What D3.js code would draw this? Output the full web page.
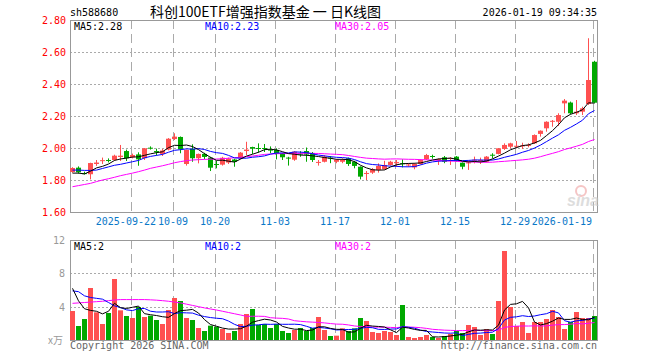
<!DOCTYPE html>
<html>
<head>
<meta charset="utf-8">
<script src="https://cdn.jsdelivr.net/npm/d3@7"></script>
<style>
  body { margin: 0; background: #fff; }
  svg { display: block; }
  text { font-family: "DejaVu Sans Mono", monospace; font-size: 10px; }
</style>
</head>
<body>
<svg id="chart" width="660" height="360"></svg>
<script>
// Data

const dates = [
  '2025-09-08', '2025-09-09', '2025-09-10', '2025-09-11', '2025-09-12', '2025-09-15', '2025-09-16', '2025-09-17',
  '2025-09-18', '2025-09-19', '2025-09-22', '2025-09-23', '2025-09-24', '2025-09-25', '2025-09-26', '2025-09-29',
  '2025-09-30', '2025-10-09', '2025-10-10', '2025-10-13', '2025-10-14', '2025-10-15', '2025-10-16', '2025-10-17',
  '2025-10-20', '2025-10-21', '2025-10-22', '2025-10-23', '2025-10-24', '2025-10-27', '2025-10-28', '2025-10-29',
  '2025-10-30', '2025-10-31', '2025-11-03', '2025-11-04', '2025-11-05', '2025-11-06', '2025-11-07', '2025-11-10',
  '2025-11-11', '2025-11-12', '2025-11-13', '2025-11-14', '2025-11-17', '2025-11-18', '2025-11-19', '2025-11-20',
  '2025-11-21', '2025-11-24', '2025-11-25', '2025-11-26', '2025-11-27', '2025-11-28', '2025-12-01', '2025-12-02',
  '2025-12-03', '2025-12-04', '2025-12-05', '2025-12-08', '2025-12-09', '2025-12-10', '2025-12-11', '2025-12-12',
  '2025-12-15', '2025-12-16', '2025-12-17', '2025-12-18', '2025-12-19', '2025-12-22', '2025-12-23', '2025-12-24',
  '2025-12-25', '2025-12-26', '2025-12-29', '2025-12-30', '2025-12-31', '2026-01-05', '2026-01-06', '2026-01-07',
  '2026-01-08', '2026-01-09', '2026-01-12', '2026-01-13', '2026-01-14', '2026-01-15', '2026-01-16', '2026-01-19',
];

const open = [
  1.850, 1.877, 1.843, 1.836, 1.900, 1.920, 1.925, 1.925, 1.944, 1.981, 1.942, 1.960, 1.936, 2.002, 1.981, 1.963,
  1.990, 2.056, 2.069, 1.900, 1.994, 1.936, 1.963, 1.940, 1.900, 1.896, 1.909, 1.928, 1.936, 1.981, 2.006, 2.000,
  2.000, 1.990, 1.988, 1.967, 1.940, 1.927, 1.966, 1.981, 1.969, 1.909, 1.914, 1.940, 1.914, 1.914, 1.936, 1.914,
  1.883, 1.839, 1.846, 1.863, 1.867, 1.894, 1.905, 1.905, 1.894, 1.879, 1.900, 1.929, 1.950, 1.927, 1.942, 1.935,
  1.946, 1.908, 1.905, 1.922, 1.920, 1.914, 1.958, 1.963, 1.994, 2.008, 2.008, 2.011, 2.013, 2.029, 2.088, 2.123,
  2.164, 2.164, 2.279, 2.284, 2.217, 2.227, 2.275, 2.539,
];
const close = [
  1.875, 1.848, 1.840, 1.906, 1.909, 1.924, 1.920, 1.952, 1.952, 1.936, 1.956, 1.929, 1.998, 1.998, 1.973, 1.984,
  2.058, 2.071, 1.992, 1.988, 1.936, 1.963, 1.944, 1.877, 1.895, 1.939, 1.934, 1.914, 1.971, 1.990, 1.996, 1.996,
  1.995, 1.985, 1.967, 1.942, 1.935, 1.977, 1.959, 1.959, 1.925, 1.913, 1.946, 1.935, 1.927, 1.925, 1.900, 1.888,
  1.821, 1.844, 1.867, 1.888, 1.894, 1.914, 1.912, 1.900, 1.897, 1.900, 1.925, 1.956, 1.946, 1.931, 1.914, 1.938,
  1.921, 1.883, 1.910, 1.927, 1.925, 1.946, 1.952, 1.998, 2.019, 2.029, 2.014, 2.016, 2.019, 2.081, 2.108, 2.164,
  2.170, 2.206, 2.296, 2.217, 2.227, 2.248, 2.425, 2.283,
];
const high = [
  1.880, 1.885, 1.852, 1.908, 1.925, 1.940, 1.935, 1.958, 2.019, 1.990, 1.965, 1.973, 2.000, 2.010, 1.996, 1.994,
  2.062, 2.092, 2.072, 1.990, 2.023, 1.965, 1.970, 1.945, 1.920, 1.945, 1.940, 1.932, 1.975, 2.039, 2.008, 2.029,
  2.025, 2.010, 1.998, 1.970, 1.945, 1.980, 1.980, 2.003, 1.975, 1.925, 1.955, 1.950, 1.930, 1.935, 1.940, 1.920,
  1.885, 1.856, 1.875, 1.904, 1.920, 1.920, 1.925, 1.929, 1.904, 1.905, 1.930, 1.963, 1.958, 1.935, 1.950, 1.942,
  1.950, 1.910, 1.921, 1.946, 1.940, 1.950, 1.967, 2.000, 2.029, 2.033, 2.044, 2.033, 2.029, 2.085, 2.110, 2.167,
  2.175, 2.217, 2.306, 2.290, 2.300, 2.258, 2.686, 2.545,
];
const low = [
  1.845, 1.840, 1.835, 1.804, 1.888, 1.900, 1.910, 1.920, 1.919, 1.919, 1.935, 1.889, 1.925, 1.990, 1.953, 1.950,
  1.985, 2.050, 1.967, 1.890, 1.914, 1.904, 1.930, 1.856, 1.873, 1.890, 1.900, 1.883, 1.930, 1.956, 1.963, 1.971,
  1.975, 1.967, 1.929, 1.925, 1.890, 1.920, 1.945, 1.914, 1.913, 1.890, 1.910, 1.905, 1.905, 1.905, 1.888, 1.873,
  1.804, 1.800, 1.838, 1.846, 1.865, 1.890, 1.883, 1.879, 1.883, 1.867, 1.897, 1.925, 1.933, 1.894, 1.905, 1.894,
  1.915, 1.867, 1.863, 1.904, 1.900, 1.910, 1.935, 1.960, 1.988, 1.998, 1.998, 1.994, 2.004, 2.025, 2.071, 2.102,
  2.133, 2.138, 2.217, 2.210, 2.206, 2.206, 2.269, 2.280,
];

// volume, 万 hands
const volume = [
  3.48, 1.68, 2.52, 6.24, 3.32, 1.92, 3.24, 7.32, 3.56, 2.88, 2.64, 3.96, 2.76, 2.92, 2.40, 1.92,
  3.60, 5.04, 4.68, 2.64, 2.40, 1.44, 1.08, 1.72, 1.60, 1.32, 0.84, 1.08, 1.92, 3.12, 3.72, 1.80,
  1.92, 1.44, 1.92, 1.08, 0.84, 1.20, 1.44, 1.08, 1.44, 2.76, 1.20, 0.48, 0.52, 1.40, 1.08, 1.40,
  2.64, 2.28, 0.96, 0.84, 1.08, 0.96, 0.60, 4.20, 0.36, 0.24, 0.36, 0.60, 0.36, 0.24, 0.48, 0.72,
  1.08, 0.84, 1.80, 1.56, 0.60, 1.32, 0.72, 4.68, 10.68, 3.96, 1.68, 2.16, 0.84, 2.16, 2.16, 2.52,
  3.60, 2.76, 1.32, 2.16, 3.36, 2.64, 2.64, 2.88,
];

// moving averages on the left edge (their window starts before the first day shown)
const priceMa5Head = [1.843, 1.843, 1.838, 1.855];
const priceMa10Head = [1.862, 1.862, 1.860, 1.860, 1.862, 1.872, 1.882, 1.892, 1.898];
const priceMa30Head = [
  1.758, 1.765, 1.772, 1.779, 1.790, 1.800, 1.808, 1.817, 1.827, 1.835, 1.843, 1.852, 1.862, 1.873, 1.881,
  1.889, 1.898, 1.908, 1.915, 1.921, 1.925, 1.927, 1.929, 1.930, 1.931, 1.933, 1.936, 1.939, 1.942,
];
const volMa5Head = [6.2, 4.7, 3.75, 3.55];
const volMa10Head = [5.9, 5.8, 5.3, 5.1, 5.0, 4.9, 4.5, 4.1, 3.9];
const volMa30Head = [
  4.40, 4.45, 4.50, 4.55, 4.60, 4.65, 4.72, 4.80, 4.85, 4.85, 4.85, 4.85, 4.85, 4.82, 4.78,
  4.72, 4.65, 4.55, 4.45, 4.30, 4.15, 4.00, 3.85, 3.72, 3.60, 3.45, 3.30, 3.15, 3.00,
];

const tickDates = ['2025-09-22', '2025-10-09', '2025-10-20', '2025-11-03', '2025-11-17', '2025-12-01', '2025-12-15', '2025-12-29', '2026-01-19'];
const tickLabels = ['2025-09-22', '10-09', '10-20', '11-03', '11-17', '12-01', '12-15', '12-29', '2026-01-19'];
const priceTicks = [1.6, 1.8, 2.0, 2.2, 2.4, 2.6, 2.8];
const volTicks = [4, 8, 12];

const code = 'sh588680';
const title = '科创100ETF增强指数基金 一 日K线图';
const stamp = '2026-01-19 09:34:35';

// Helpers

const movingAvg = (arr, n, head) => arr.map((v, i) => (i < n - 1 ? head[i] : d3.mean(arr.slice(i - n + 1, i + 1))));

const RED = '#ff5050';
const GREEN = '#00a800';
const GRID = '#aaa';
const maColors = { 5: '#000', 10: '#0000ff', 30: '#ff00ff' };

const svg = d3.select('#chart');

const left = 70;
const right = 597;
const price = { top: 20, bottom: 212 };
const vol = { top: 240, bottom: 340 };

const x = d3.scaleBand().domain(dates).range([left, right]).paddingInner(1 / 6).paddingOuter(0);
const cx = (i) => x(dates[i]) + 2.5;

const y = d3.scaleLinear().domain([1.6, 2.8]).range([price.bottom, price.top]);
const yv = d3.scaleLinear().domain([0, 12]).range([vol.bottom, vol.top]);

// Header

svg.append('text').attr('x', 70).attr('y', 16).text(code);
svg.append('text')
  .attr('x', 150)
  .attr('y', 17)
  .style('font-family', '"Noto Sans CJK SC", sans-serif')
  .style('font-size', '14px')
  .style('white-space', 'pre')
  .text(title);
svg.append('text').attr('x', right).attr('y', 16).attr('text-anchor', 'end').text(stamp);

// Grids (both panels)

function drawGrid(panel, yScale, gridValues) {
  const g = svg.append('g');
  g.selectAll('.hgrid')
    .data(gridValues)
    .enter()
    .append('line')
    .attr('x1', left)
    .attr('x2', right)
    .attr('y1', (d) => Math.round(yScale(d)) + 0.5)
    .attr('y2', (d) => Math.round(yScale(d)) + 0.5)
    .attr('stroke', GRID)
    .attr('stroke-dasharray', '2,2');
  g.selectAll('.vgrid')
    .data(tickDates)
    .enter()
    .append('line')
    .attr('x1', (d) => x(d) + 1.5)
    .attr('x2', (d) => x(d) + 1.5)
    .attr('y1', panel.top)
    .attr('y2', panel.bottom)
    .attr('stroke', GRID)
    .attr('stroke-dasharray', '9,5');
  g.append('rect')
    .attr('x', left + 0.5)
    .attr('y', panel.top + 0.5)
    .attr('width', right - left)
    .attr('height', panel.bottom - panel.top)
    .attr('fill', 'none')
    .attr('stroke', '#999');
}

drawGrid(price, y, priceTicks.slice(1, -1));
drawGrid(vol, yv, volTicks.slice(0, -1));

// Axis labels

svg.selectAll('.plabel')
  .data(priceTicks)
  .enter()
  .append('text')
  .attr('x', 66)
  .attr('y', (d) => y(d) + 4)
  .attr('text-anchor', 'end')
  .attr('fill', '#f00')
  .text((d) => d.toFixed(2));

// first and last date labels are pushed inward, as on the original
const lastTick = tickDates.length - 1;
svg.selectAll('.dlabel')
  .data(tickDates)
  .enter()
  .append('text')
  .attr('x', (d, i) => {
    if (i === 0) return x(d) + 26;
    if (i === lastTick) return 592;
    return x(d) + 1;
  })
  .attr('y', 225)
  .attr('text-anchor', (d, i) => {
    if (i === 0 || i === lastTick) return 'end';
    return 'middle';
  })
  .attr('fill', '#0a78c8')
  .text((d, i) => tickLabels[i]);

svg.selectAll('.vlabel')
  .data(volTicks)
  .enter()
  .append('text')
  .attr('x', 65)
  .attr('y', (d) => yv(d) + 4)
  .attr('text-anchor', 'end')
  .attr('fill', '#999')
  .text((d) => d);

svg.append('text')
  .attr('x', 63)
  .attr('y', 344)
  .attr('text-anchor', 'end')
  .attr('fill', '#999')
  .style('font-family', '"Noto Sans CJK SC", sans-serif')
  .text('x万');

// Watermark

const wm = svg.append('g').attr('opacity', 0.6);
wm.append('circle').attr('cx', 581).attr('cy', 191).attr('r', 5).attr('fill', 'none').attr('stroke', '#f0a0a0').attr('stroke-width', 2);
wm.append('text')
  .attr('x', 567)
  .attr('y', 206)
  .style('font-family', 'Arial, "Liberation Sans", sans-serif')
  .style('font-size', '16px')
  .style('font-weight', 'bold')
  .style('font-style', 'italic')
  .attr('fill', '#c8c8c8')
  .text('sina');

// Candles

const isUp = (i) => close[i] >= open[i];
const candles = svg.append('g');

candles.selectAll('.wick')
  .data(dates)
  .enter()
  .append('line')
  .attr('x1', (d, i) => Math.floor(cx(i)) + 0.5)
  .attr('x2', (d, i) => Math.floor(cx(i)) + 0.5)
  .attr('y1', (d, i) => y(high[i]))
  .attr('y2', (d, i) => y(low[i]))
  .attr('stroke', (d, i) => (isUp(i) ? RED : GREEN));

candles.selectAll('.body')
  .data(dates)
  .enter()
  .append('rect')
  .attr('x', (d) => x(d))
  .attr('y', (d, i) => y(Math.max(open[i], close[i])))
  .attr('width', x.bandwidth())
  .attr('height', (d, i) => Math.max(1, Math.abs(y(open[i]) - y(close[i]))))
  .attr('fill', (d, i) => (isUp(i) ? RED : GREEN));

// MA lines

const maLine = (yScale) => d3.line().x((d, i) => cx(i)).y((d) => yScale(d));

const priceMas = [
  { n: 5, values: movingAvg(close, 5, priceMa5Head) },
  { n: 10, values: movingAvg(close, 10, priceMa10Head) },
  { n: 30, values: movingAvg(close, 30, priceMa30Head) },
];
const volMas = [
  { n: 5, values: movingAvg(volume, 5, volMa5Head) },
  { n: 10, values: movingAvg(volume, 10, volMa10Head) },
  { n: 30, values: movingAvg(volume, 30, volMa30Head) },
];

priceMas.slice().reverse().forEach((m) => {
  svg.append('path')
    .attr('d', maLine(y)(m.values))
    .attr('fill', 'none')
    .attr('stroke', maColors[m.n])
    .attr('stroke-width', 1);
});

// Volume bars

svg.append('g')
  .selectAll('.vbar')
  .data(dates)
  .enter()
  .append('rect')
  .attr('x', (d) => x(d))
  .attr('y', (d, i) => yv(volume[i]))
  .attr('width', x.bandwidth())
  .attr('height', (d, i) => vol.bottom - yv(volume[i]))
  .attr('fill', (d, i) => (isUp(i) ? RED : GREEN));

volMas.slice().reverse().forEach((m) => {
  svg.append('path')
    .attr('d', maLine(yv)(m.values))
    .attr('fill', 'none')
    .attr('stroke', maColors[m.n])
    .attr('stroke-width', 1);
});

// MA legends

const legendX = { 5: 74, 10: 205, 30: 335 };
priceMas.forEach((m) => {
  svg.append('text')
    .attr('x', legendX[m.n])
    .attr('y', 30)
    .attr('fill', maColors[m.n])
    .text(`MA${m.n}:${m.values[m.values.length - 1].toFixed(2)}`);
});
volMas.forEach((m) => {
  svg.append('text')
    .attr('x', legendX[m.n])
    .attr('y', 250)
    .attr('fill', maColors[m.n])
    .text(`MA${m.n}:${Math.floor(m.values[m.values.length - 1])}`);
});

// Footer

svg.append('text').attr('x', 70).attr('y', 349).attr('fill', '#666').text('Copyright 2026 SINA.COM');
svg.append('text').attr('x', right).attr('y', 349).attr('text-anchor', 'end').attr('fill', '#666').text('http://finance.sina.com.cn');
</script>
</body>
</html>
